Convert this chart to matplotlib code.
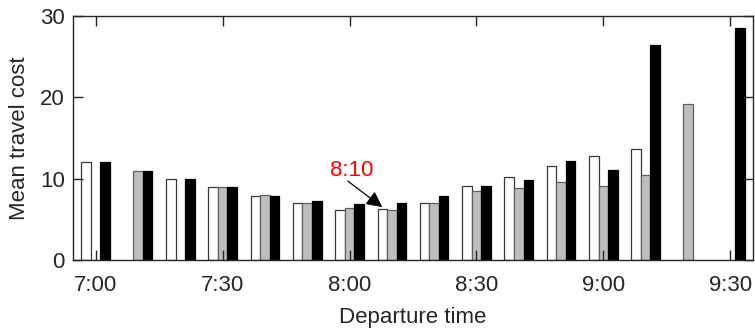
import numpy as np
import matplotlib
matplotlib.use('Agg')
import matplotlib.pyplot as plt

plt.rcParams['font.family'] = ['Liberation Sans', 'DejaVu Sans']

# departure times, one group every 10 minutes
times = ['7:00', '7:10', '7:20', '7:30', '7:40', '7:50', '8:00', '8:10',
         '8:20', '8:30', '8:40', '8:50', '9:00', '9:10', '9:20', '9:30']
tick_labels = ['7:00', '7:30', '8:00', '8:30', '9:00', '9:30']

# mean travel cost per series (nan = no bar)
white_vals = [12.0, np.nan, 10.0, 9.0, 7.9, 7.0, 6.2, 6.25, 7.0, 9.05, 10.15, 11.5, 12.8, 13.7, np.nan, np.nan]
gray_vals = [np.nan, 11.0, np.nan, 9.0, 8.0, 7.0, 6.35, 6.1, 7.0, 8.45, 8.8, 9.65, 9.05, 10.4, 19.2, np.nan]
black_vals = [12.0, 11.0, 10.0, 9.0, 7.9, 7.2, 6.85, 7.0, 7.85, 9.1, 9.8, 12.15, 11.1, 26.4, np.nan, 28.5]

text_col = '#262626'

fig = plt.figure(figsize=(7.55, 3.29), dpi=100)
ax = fig.add_axes([0.0967, 0.2097, 0.9003, 0.7416])

x = np.arange(len(times))
w = 0.225
ax.bar(x - w, white_vals, w, color='white', edgecolor='#383838', linewidth=0.9)
ax.bar(x, gray_vals, w, color='#bebebe', edgecolor='#606060', linewidth=0.9)
ax.bar(x + w, black_vals, w, color='black', edgecolor='black', linewidth=0.9)

ax.set_xlim(-0.536, 15.53)
ax.set_ylim(0, 30)
ax.set_xticks([times.index(t) for t in tick_labels])
ax.set_xticklabels(tick_labels)
ax.set_yticks([0, 10, 20, 30])

ax.tick_params(direction='in', length=7, width=1, top=True, right=True,
               labelsize=16, colors=text_col)
ax.tick_params(axis='x', pad=11)
ax.tick_params(axis='y', pad=6)
for s in ax.spines.values():
    s.set_color(text_col)
    s.set_linewidth(1)

ax.set_xlabel('Departure time', fontsize=16, color=text_col, labelpad=8)
ax.set_ylabel('Mean travel cost', fontsize=16, color=text_col, labelpad=7)

# label and arrow pointing at the 8:10 white bar
i810 = times.index('8:10')
ax.text(6.05, 11.0, '8:10', ha='center', va='center', fontsize=16, color='red')
ax.annotate('', xy=(i810 - w, white_vals[i810] + 0.25), xytext=(5.96, 9.7),
            arrowprops=dict(arrowstyle='-|>', color='black', lw=0.9,
                            mutation_scale=24, shrinkA=0, shrinkB=0))

fig.savefig('out.png', dpi=100)
